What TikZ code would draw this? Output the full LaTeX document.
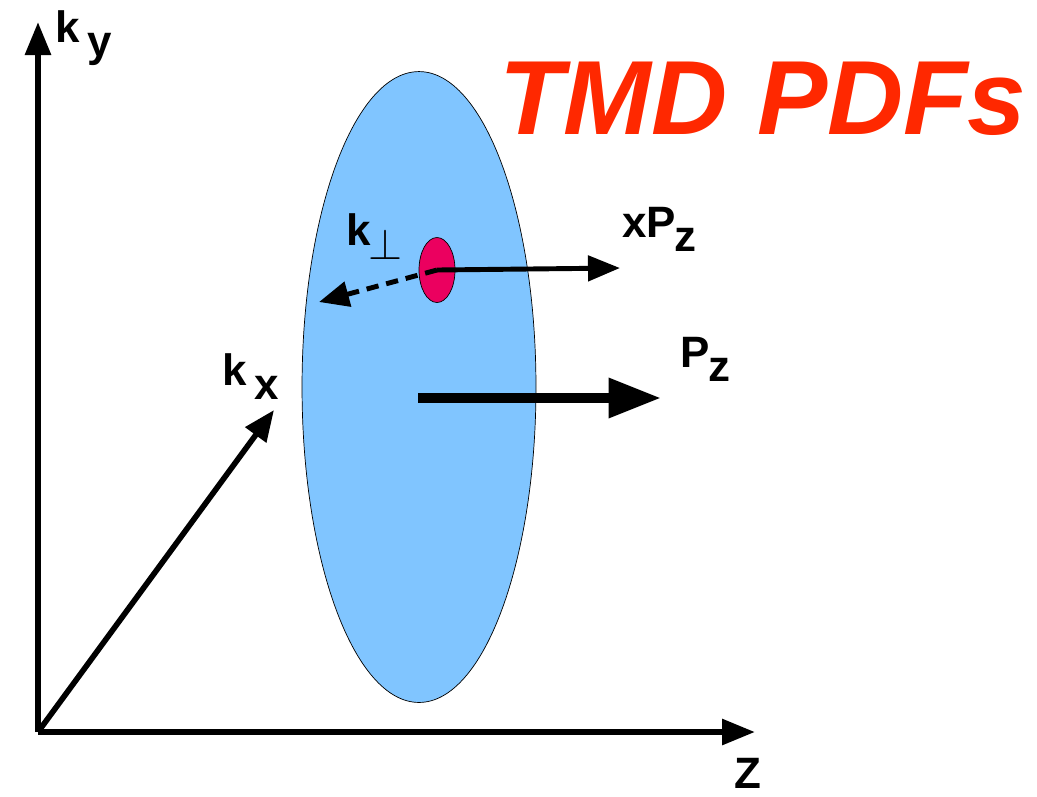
\documentclass[tikz,border=0pt]{standalone}
\usepackage{fontspec}
\setmainfont{Liberation Sans}
\usetikzlibrary{arrows.meta,shapes.geometric}
\definecolor{protonblue}{RGB}{128,197,255}
\definecolor{quarkred}{RGB}{235,0,95}
\definecolor{titlered}{RGB}{255,40,0}
\newcommand{\lowr}[1]{\raisebox{-0.33em}{#1}}
\tikzset{
	axis/.style={line width=3.4pt, -{Triangle[length=0.66cm, width=0.5cm]}},
	lbl/.style={inner sep=0pt, anchor=base west, font=\fontsize{25}{25}\selectfont\bfseries},
}
\begin{document}
\begin{tikzpicture}[x=0.02cm, y=-0.02cm, >=Triangle]
			\useasboundingbox (0,0) rectangle (1037,796);
			% Proton
			\node[ellipse, draw=black, thin, fill=protonblue, inner sep=0pt,
				minimum width=4.68cm, minimum height=12.62cm] (proton) at (419,387) {};
			% Quark
			\node[ellipse, draw=black, thin, fill=quarkred, inner sep=0pt,
				minimum width=0.72cm, minimum height=1.3cm] (quark) at (437,270) {};
			% Achsen
			\coordinate (O) at (38,732);
			\coordinate (ky) at (38,22);
			\coordinate (kz) at (755,732);
			\coordinate (kx) at (274,410);
			\draw[axis] (O) -- (ky);
			\draw[axis] (O) -- (kz);
			\draw[line width=3.2pt, -{Triangle[length=0.62cm, width=0.5cm]}] (O) -- (kx);
			% Impulse
			\coordinate (xpend) at (620,268);
			\coordinate (kpend) at (319,302);
			\coordinate (pzstart) at (418,398);
			\coordinate (pzend) at (661,398);
			\draw[line width=2.8pt, -{Triangle[length=0.64cm, width=0.5cm]}] (quark.center) -- (xpend);
			\draw[line width=2.8pt, dash pattern=on 7pt off 4.5pt, -{Triangle[length=0.6cm, width=0.5cm]}] (quark.center) -- (kpend);
			\draw[line width=5.6pt, -{Triangle[length=1.05cm, width=0.76cm]}] (pzstart) -- (pzend);
			% Beschriftungen
			\node[lbl] (lky) at (55,42) {k\,\lowr{y}};
			\node[lbl] (lkx) at (222,385) {k\,\lowr{x}};
			\node[lbl] (lkp) at (346,245) {k\kern-0.05em\lowr{\fontsize{29}{29}\selectfont$\perp$}};
			\node[lbl] (lxp) at (622,237) {xP\kern-0.03em\lowr{z}};
			\node[lbl] (lpz) at (680,367) {P\kern-0.03em\lowr{z}};
			\node[lbl] (lz) at (734,788) {Z};
			\node[inner sep=0pt, text=titlered, font=\fontsize{60}{60}\selectfont\bfseries\itshape] (title) at (763,99) {TMD PDFs};
		\end{tikzpicture}
\end{document}
